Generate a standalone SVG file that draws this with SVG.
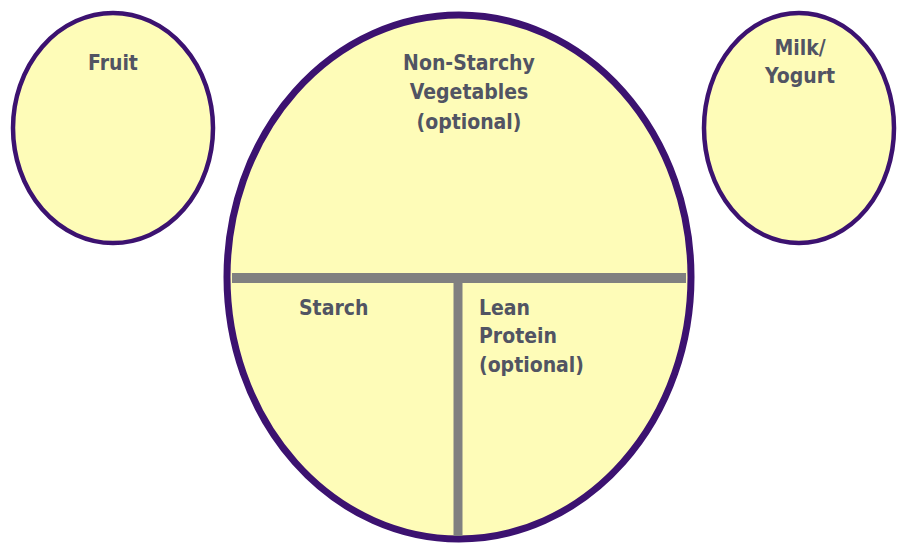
<svg xmlns="http://www.w3.org/2000/svg" width="898" height="543" viewBox="0 0 898 543">
<style>
.plate{fill:#fefcb8;stroke:#3c1270}
.lbl{font-family:"DejaVu Sans Condensed","DejaVu Sans",sans-serif;font-weight:bold;font-size:21px;fill:#515463}
.mid{text-anchor:middle}
.div{stroke:#808080;fill:none}
</style>
<rect width="898" height="543" fill="#ffffff"/>
<g id="fruit">
<ellipse class="plate" cx="113" cy="128" rx="100" ry="115" stroke-width="4.5"/>
<text class="lbl mid" x="113" y="70">Fruit</text>
</g>
<g id="milk">
<ellipse class="plate" cx="799" cy="128" rx="95" ry="115" stroke-width="4.5"/>
<text class="lbl mid" x="800" y="55">Milk/</text>
<text class="lbl mid" x="800" y="83">Yogurt</text>
</g>
<g id="plate">
<ellipse class="plate" cx="459" cy="277" rx="232" ry="262" stroke-width="7"/>
</g>
<g id="dividers">
<line class="div" x1="232" y1="278" x2="686" y2="278" stroke-width="10"/>
<line class="div" x1="458" y1="283" x2="458" y2="536" stroke-width="9"/>
</g>
<g id="vegetables">
<text class="lbl mid" x="469" y="70">Non-Starchy</text>
<text class="lbl mid" x="469" y="99">Vegetables</text>
<text class="lbl mid" x="469" y="129">(optional)</text>
</g>
<g id="starch">
<text class="lbl" x="299" y="315">Starch</text>
</g>
<g id="protein">
<text class="lbl" x="479" y="315">Lean</text>
<text class="lbl" x="479" y="343">Protein</text>
<text class="lbl" x="479" y="372">(optional)</text>
</g>
</svg>
